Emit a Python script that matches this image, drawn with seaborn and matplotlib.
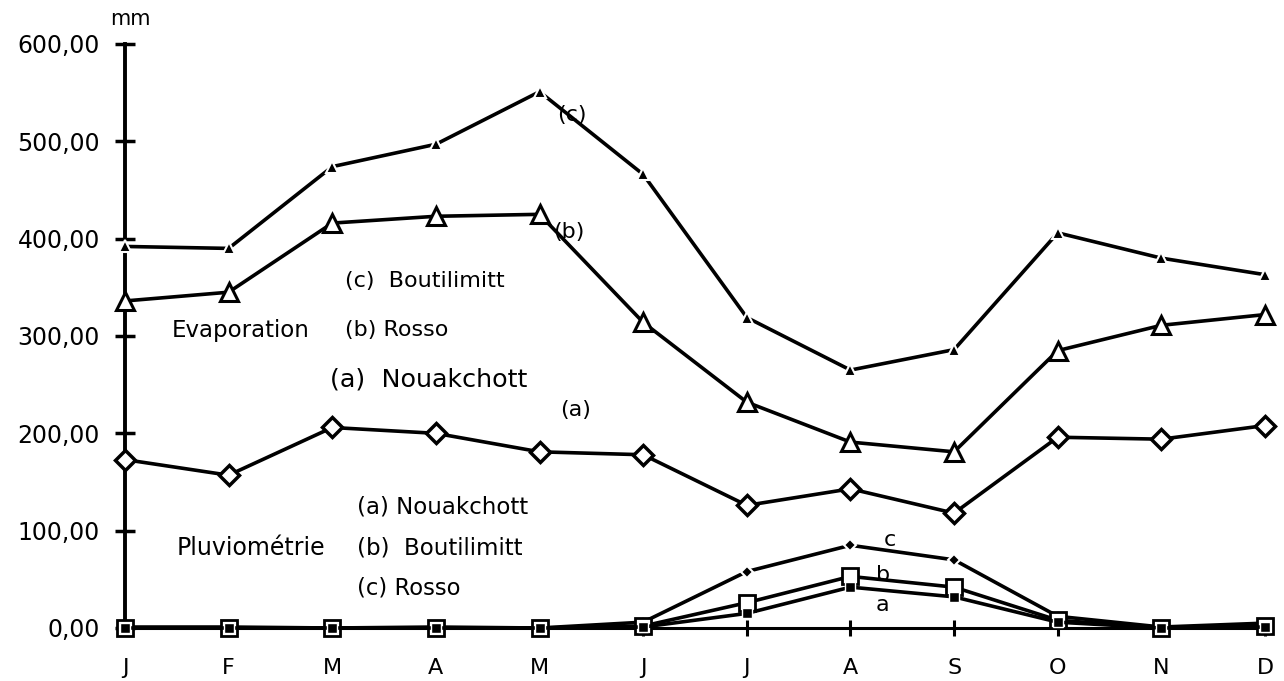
import matplotlib
matplotlib.use("Agg")
import matplotlib.pyplot as plt
import seaborn as sns
import pandas as pd

months = ["J", "F", "M", "A", "M", "J", "J", "A", "S", "O", "N", "D"]
y_ticks = [0, 100, 200, 300, 400, 500, 600]
y_ticklabels = ["0,00", "100,00", "200,00", "300,00", "400,00", "500,00", "600,00"]

# Evaporation (mm)
evap_a_nouakchott = [173, 157, 206, 200, 181, 178, 126, 143, 118, 196, 194, 208]
evap_b_rosso = [336, 345, 416, 423, 425, 314, 232, 191, 181, 285, 311, 322]
evap_c_boutilimitt = [392, 390, 474, 497, 551, 466, 319, 265, 286, 406, 380, 363]

# Pluviométrie (mm)
rain_a_nouakchott = [0, 0, 0, 0, 0, 1, 15, 42, 32, 6, 0, 1]
rain_b_boutilimitt = [0, 0, 0, 0, 0, 2, 26, 53, 42, 8, 0, 2]
rain_c_rosso = [1, 1, 0, 1, 0, 6, 58, 85, 70, 12, 1, 5]

sns.set_style("white")
plt.rcParams["font.family"] = ["DejaVu Sans"]
plt.rcParams["text.color"] = "black"

fig = plt.figure(figsize=(12.84, 6.81), dpi=100)
ax = fig.add_axes([125 / 1284, 53 / 681, 1140 / 1284, 584 / 681])

idx = list(range(len(months)))

series = [
    (evap_c_boutilimitt, dict(marker="^", markersize=8, markerfacecolor="black",
                              markeredgecolor="white", markeredgewidth=1.5)),
    (evap_b_rosso, dict(marker="^", markersize=13, markerfacecolor="white",
                        markeredgecolor="black", markeredgewidth=2.2)),
    (evap_a_nouakchott, dict(marker="D", markersize=10, markerfacecolor="white",
                             markeredgecolor="black", markeredgewidth=2.5)),
    (rain_c_rosso, dict(marker="D", markersize=6, markerfacecolor="black",
                        markeredgecolor="white", markeredgewidth=1.5)),
    (rain_b_boutilimitt, dict(marker="s", markersize=12, markerfacecolor="white",
                              markeredgecolor="black", markeredgewidth=2)),
    (rain_a_nouakchott, dict(marker="s", markersize=7, markerfacecolor="black",
                             markeredgecolor="white", markeredgewidth=1)),
]

for vals, kw in series:
    df = pd.DataFrame({"x": idx, "y": vals})
    sns.lineplot(data=df, x="x", y="y", ax=ax, color="black", linewidth=2.6,
                 clip_on=False, zorder=3, **kw)

ax.set_xlim(0, 11)
ax.set_ylim(0, 600)
ax.set_xticks(idx)
ax.set_xticklabels(months)
ax.set_yticks(y_ticks)
ax.set_yticklabels(y_ticklabels)
ax.set_xlabel("")
ax.set_ylabel("")

for s in ["top", "right"]:
    ax.spines[s].set_visible(False)
ax.spines["left"].set_linewidth(2.8)
ax.spines["bottom"].set_linewidth(2.2)
ax.spines["left"].set_color("black")
ax.spines["bottom"].set_color("black")
ax.spines["bottom"].set_bounds(0, 11.05)

ax.tick_params(axis="y", direction="inout", length=14, width=2.5, pad=11,
               labelsize=17, colors="black", left=True)
ax.tick_params(axis="x", direction="inout", length=11, width=2.2, pad=16,
               labelsize=16, colors="black", bottom=True)

# annotations
ax.text(0.05, 626, "mm", ha="center", va="center", fontsize=15, clip_on=False)
ax.text(2.12, 356, "(c)  Boutilimitt", ha="left", va="center", fontsize=16)
ax.text(0.45, 306, "Evaporation", ha="left", va="center", fontsize=16.5)
ax.text(2.12, 306, "(b) Rosso", ha="left", va="center", fontsize=16)
ax.text(1.98, 255, "(a)  Nouakchott", ha="left", va="center", fontsize=18.3)
ax.text(2.24, 124, "(a) Nouakchott", ha="left", va="center", fontsize=16.5)
ax.text(0.50, 82, "Pluviométrie", ha="left", va="center", fontsize=17)
ax.text(2.24, 82, "(b)  Boutilimitt", ha="left", va="center", fontsize=16.5)
ax.text(2.24, 41, "(c) Rosso", ha="left", va="center", fontsize=16.3)

ax.text(4.17, 527, "(c)", ha="left", va="center", fontsize=16)
ax.text(4.13, 407, "(b)", ha="left", va="center", fontsize=16)
ax.text(4.2, 224, "(a)", ha="left", va="center", fontsize=16)
ax.text(7.38, 90, "c", ha="center", va="center", fontsize=16)
ax.text(7.31, 54, "b", ha="center", va="center", fontsize=16)
ax.text(7.31, 24, "a", ha="center", va="center", fontsize=16)

fig.savefig("out.png", dpi=100, facecolor="white")
